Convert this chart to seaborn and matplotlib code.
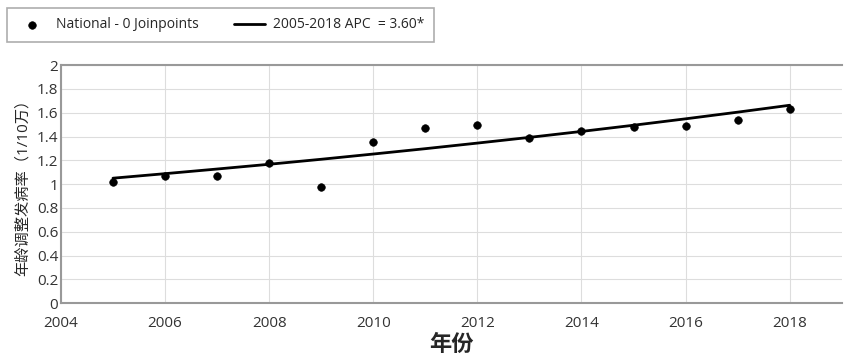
import numpy as np
import pandas as pd
import matplotlib
matplotlib.use('Agg')
import matplotlib.pyplot as plt
import seaborn as sns

sns.set_style('white')
plt.rcParams['font.family'] = ['Open Sans', 'Noto Sans CJK SC', 'DejaVu Sans']

# 观测值
years = [2005, 2006, 2007, 2008, 2009, 2010, 2011, 2012, 2013, 2014, 2015, 2016, 2017, 2018]
rate = [1.02, 1.07, 1.07, 1.18, 0.98, 1.35, 1.47, 1.50, 1.39, 1.45, 1.48, 1.49, 1.54, 1.63]
# 拟合值 (APC = 3.60)
fitted = [1.05, 1.088, 1.127, 1.167, 1.209, 1.253, 1.298, 1.345, 1.393, 1.443, 1.495, 1.549, 1.605, 1.663]

df = pd.DataFrame({'year': years, 'rate': rate, 'fit': fitted})

fig = plt.figure(figsize=(8.46, 3.6), dpi=100)
ax = fig.add_axes([0.072, 0.158, 0.923, 0.661])

sns.scatterplot(data=df, x='year', y='rate', ax=ax, color='black', s=30,
                edgecolor='black', zorder=3, label='National - 0 Joinpoints')
sns.lineplot(data=df, x='year', y='fit', ax=ax, color='black', linewidth=2,
             zorder=2, label='2005-2018 APC  = 3.60*')

ax.set_xlim(2004, 2019)
ax.set_ylim(0, 2)
ax.set_xticks(range(2004, 2019, 2))
ax.set_yticks(np.arange(0, 2.01, 0.2))
ax.set_yticklabels(['0', '0.2', '0.4', '0.6', '0.8', '1', '1.2', '1.4', '1.6', '1.8', '2'])
ax.grid(True, color='#dddddd', linewidth=0.8)
ax.tick_params(labelsize=11, length=0, colors='#333333')
ax.tick_params(axis='x', pad=9)
ax.tick_params(axis='y', pad=2)
for s in ['left', 'bottom', 'top']:
    ax.spines[s].set_color('#999999')
    ax.spines[s].set_linewidth(1.5)
ax.spines['right'].set_visible(False)

ax.set_xlabel('年份', fontsize=16, fontweight='bold', labelpad=3)
ax.set_ylabel('年龄调整发病率（1/10万）', fontsize=11, labelpad=4)

ax.get_legend().remove()
h, l = ax.get_legend_handles_labels()
leg = fig.legend(h, l, loc='upper left', bbox_to_anchor=(0.0, 0.998), ncol=2,
                 fontsize=10, frameon=True, fancybox=False, edgecolor='#999999',
                 columnspacing=2.6, handlelength=2.2, handletextpad=0.6,
                 borderpad=0.7)
leg.get_frame().set_linewidth(1.2)

fig.savefig('out.png', dpi=100)
